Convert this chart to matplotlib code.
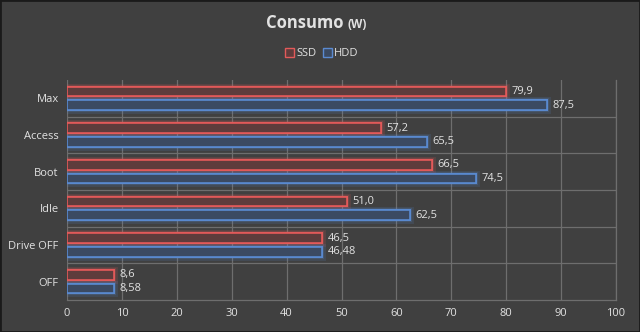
import matplotlib.pyplot as plt
import matplotlib.patheffects as pe
from matplotlib.patches import Patch

categories = ['Max', 'Access', 'Boot', 'Idle', 'Drive OFF', 'OFF']
ssd = [79.9, 57.2, 66.5, 51.0, 46.5, 8.6]
hdd = [87.5, 65.5, 74.5, 62.5, 46.48, 8.58]
xticks = [0, 10, 20, 30, 40, 50, 60, 70, 80, 90, 100]

plt.rcParams['font.family'] = ['Open Sans', 'DejaVu Sans']

bg = '#404040'
txt = '#e2e2e2'
grid = '#6e6e6e'
red_edge, red_fill = '#e35a5a', '#5e3c3c'
blue_edge, blue_fill = '#5a8ad0', '#3b4a62'

fig = plt.figure(figsize=(6.4, 3.32), dpi=100, facecolor=bg)
ax = fig.add_axes([0.1047, 0.0964, 0.8578, 0.6626], facecolor=bg)

pos = list(range(len(categories)))
h = 0.26
off = 0.185

def draw(vals, shift, fc, ec):
    bars = ax.barh([p + shift for p in pos], vals, height=h, color=fc,
                   edgecolor=ec, linewidth=1.2, zorder=3)
    for b in bars:
        b.set_path_effects([pe.withStroke(linewidth=5, foreground=ec, alpha=0.15),
                            pe.withStroke(linewidth=3, foreground=ec, alpha=0.2),
                            pe.Normal()])
    for p, v in zip(pos, vals):
        ax.text(v + 1.0, p + shift, str(v).replace('.', ','), va='center',
                ha='left', color=txt, fontsize=8, zorder=4)

draw(ssd, -off, red_fill, red_edge)
draw(hdd, off, blue_fill, blue_edge)

ax.set_ylim(len(categories) - 0.5, -0.5)
ax.set_xlim(0, 100)
ax.set_xticks(xticks)
ax.set_yticks(pos)
ax.set_yticklabels(categories)
ax.set_yticks([p + 0.5 for p in pos[:-1]], minor=True)
ax.tick_params(axis='both', length=0, colors=txt, labelsize=8, pad=6)
ax.tick_params(axis='y', which='minor', length=0)
ax.grid(axis='x', color=grid, linewidth=0.9, zorder=0)
ax.grid(axis='y', which='minor', color=grid, linewidth=0.9, zorder=0)
for s in ['top', 'left']:
    ax.spines[s].set_visible(False)
for s in ['bottom', 'right']:
    ax.spines[s].set_color(grid)
    ax.spines[s].set_linewidth(0.9)

fig.text(0.536, 0.931, 'Consumo', ha='right', va='center', color=txt,
         fontsize=12, fontweight='bold')
fig.text(0.543, 0.927, '(W)', ha='left', va='center', color=txt,
         fontsize=8.5, fontweight='bold')

handles = [Patch(facecolor=red_fill, edgecolor=red_edge, label='SSD'),
           Patch(facecolor=blue_fill, edgecolor=blue_edge, label='HDD')]
fig.legend(handles=handles, loc='center', bbox_to_anchor=(0.503, 0.838),
           ncol=2, frameon=False, fontsize=8, handlelength=0.8,
           handleheight=0.8, handletextpad=0.2, columnspacing=0.6,
           labelcolor=txt)

# thin frame round the whole figure
fig.patches.append(plt.Rectangle((0, 0), 1, 1, transform=fig.transFigure,
                                 fill=False, edgecolor='#1a1a1a', linewidth=2))

fig.savefig('out.png', dpi=100, facecolor=bg)
